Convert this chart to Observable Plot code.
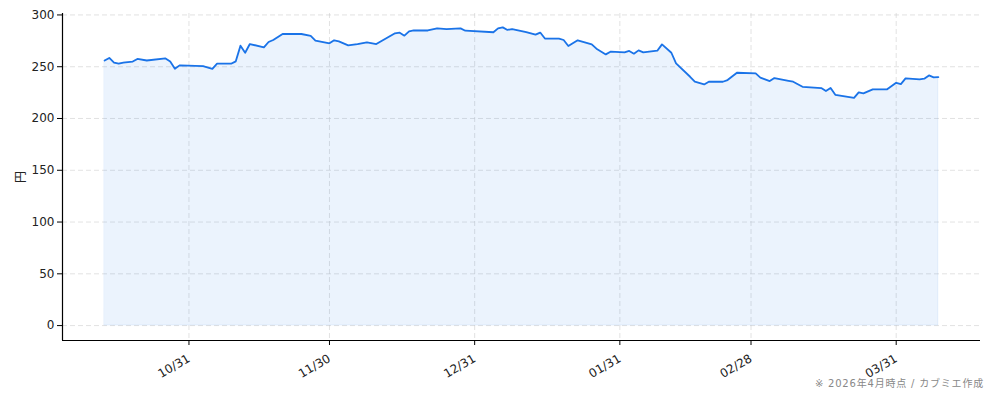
<!DOCTYPE html>
<html>
<head>
<meta charset="utf-8">
<script src="https://cdn.jsdelivr.net/npm/d3@7"></script>
<script src="https://cdn.jsdelivr.net/npm/@observablehq/plot@0.6"></script>
<style>
  html, body { margin: 0; padding: 0; background: #fff; }
  #wrap { width: 994px; position: relative; }
  #wrap svg { display: block; }
  #caption { position: absolute; right: 10px; top: 377px; font-family: "DejaVu Sans", "Noto Sans CJK JP", sans-serif; font-size: 10px; color: #888; line-height: 14px; letter-spacing: 0.8px; }
</style>
</head>
<body>
<div id="wrap"></div>
<script>
const dates = ["2025-10-13","2025-10-14","2025-10-15","2025-10-16","2025-10-17","2025-10-19","2025-10-20","2025-10-22","2025-10-26","2025-10-27",
"2025-10-28","2025-10-29","2025-11-03","2025-11-05","2025-11-06","2025-11-09","2025-11-10","2025-11-11","2025-11-12","2025-11-13",
"2025-11-16","2025-11-17","2025-11-18","2025-11-20","2025-11-24","2025-11-26","2025-11-27","2025-11-30","2025-12-01","2025-12-02",
"2025-12-04","2025-12-06","2025-12-08","2025-12-10","2025-12-14","2025-12-15","2025-12-16","2025-12-17","2025-12-18","2025-12-21",
"2025-12-23","2025-12-25","2025-12-28","2025-12-29","2026-01-04","2026-01-05","2026-01-06","2026-01-07","2026-01-08","2026-01-11",
"2026-01-13","2026-01-14","2026-01-15","2026-01-18","2026-01-19","2026-01-20","2026-01-22","2026-01-25","2026-01-26","2026-01-28",
"2026-01-29","2026-02-01","2026-02-02","2026-02-03","2026-02-04","2026-02-05","2026-02-08","2026-02-09","2026-02-11","2026-02-12",
"2026-02-15","2026-02-16","2026-02-18","2026-02-19","2026-02-22","2026-02-23","2026-02-25","2026-03-01","2026-03-02","2026-03-04",
"2026-03-05","2026-03-08","2026-03-09","2026-03-11","2026-03-15","2026-03-16","2026-03-17","2026-03-18","2026-03-22","2026-03-23",
"2026-03-24","2026-03-26","2026-03-29","2026-03-31","2026-04-01","2026-04-02","2026-04-05","2026-04-06","2026-04-07","2026-04-08",
"2026-04-09"];
const prices = [256,258.5,254,253,254,255,257.5,256,258,255,
248,251.3,250.6,248,252.9,252.9,255.2,270.3,263.5,271.9,
268.7,273.9,275.8,281.6,281.6,279.7,275.2,272.6,275.5,274.5,
270.6,271.9,273.5,271.9,282.3,282.9,280,284.1,285,285,
287,286.4,287,284.8,283.3,287,288,285.5,286.4,283.5,
281,283,277.2,277.2,275.8,270,275.5,271.6,267.4,261.9,
264.5,263.9,265.2,262.6,265.8,263.9,265.5,271.6,263.5,253.2,
240.3,235.5,232.9,235.5,235.5,237.1,244.2,243.6,239.4,236.1,
239,236.4,235.5,230.6,229.4,226.5,229.4,222.9,220,225.2,
224.2,228.1,228.1,234.5,233.2,238.7,237.7,238.4,241.6,239.7,
240];
const xTicks = ["2025-10-31","2025-11-30","2025-12-31","2026-01-31","2026-02-28","2026-03-31"];
const yTicks = [0,50,100,150,200,250,300];
const xDomain = ["2025-10-04","2026-04-18"];
const yDomain = [-14.4, 301.4];
const yLabel = "円";
const captionText = "※ 2026年4月時点 / カブミエ作成";

const parse = d3.utcParse("%Y-%m-%d");
const data = dates.map((d, i) => ({date: parse(d), price: prices[i]}));
const xt = xTicks.map(parse);
const xd = xDomain.map(parse);

const blue = "#1a73e8";
const plot = Plot.plot({
  width: 994,
  height: 400,
  marginLeft: 62,
  marginRight: 14,
  marginTop: 13,
  marginBottom: 60,
  style: {fontFamily: '"DejaVu Sans", sans-serif', fontSize: "12px", color: "#222", background: "#fff"},
  x: {type: "utc", domain: xd},
  y: {domain: yDomain},
  marks: [
    Plot.gridX(xt, {stroke: "#cfcfcf", strokeOpacity: 0.6, strokeDasharray: "5,3"}),
    Plot.gridY(yTicks, {stroke: "#cfcfcf", strokeOpacity: 0.6, strokeDasharray: "5,3"}),
    Plot.areaY(data, {x: "date", y: "price", fill: blue, fillOpacity: 0.085, stroke: blue, strokeOpacity: 0.08, strokeWidth: 1}),
    Plot.lineY(data, {x: "date", y: "price", stroke: blue, strokeWidth: 1.8}),
    Plot.axisX(xt, {tickFormat: d3.utcFormat("%m/%d"), tickRotate: -30, tickSize: 5, tickPadding: 12, stroke: "#000", fontSize: 12, label: null}),
    Plot.axisY(yTicks, {tickSize: 5, tickPadding: 3, stroke: "#000", fontSize: 12, label: yLabel, labelAnchor: "center", labelArrow: "none", labelOffset: 46, fontFamily: '"DejaVu Sans", "Noto Sans CJK JP", sans-serif'}),
    Plot.ruleX([xd[0]], {stroke: "#000", strokeWidth: 1.2}),
    Plot.ruleY([yDomain[0]], {stroke: "#000", strokeWidth: 1.2})
  ]
});
const wrap = document.getElementById("wrap");
wrap.appendChild(plot);
const cap = document.createElement("div");
cap.id = "caption";
cap.textContent = captionText;
wrap.appendChild(cap);
</script>
</body>
</html>
